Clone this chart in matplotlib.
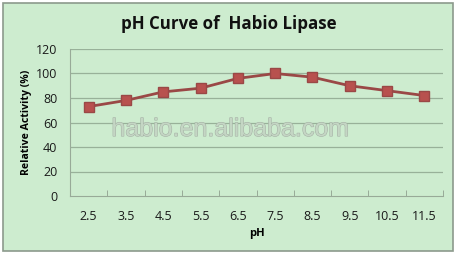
import matplotlib.pyplot as plt
import matplotlib.patheffects as pe
from matplotlib.patches import Rectangle

ph_labels = ['2.5', '3.5', '4.5', '5.5', '6.5', '7.5', '8.5', '9.5', '10.5', '11.5']
activity = [73, 78, 85, 88, 96, 100, 97, 90, 86, 82]
y_ticks = [0, 20, 40, 60, 80, 100, 120]

bg = '#cdeccf'
plt.rcParams['font.family'] = ['Open Sans', 'DejaVu Sans']

fig = plt.figure(figsize=(4.58, 2.54), dpi=100, facecolor='white')
fig.patches.append(Rectangle((3 / 458, 3 / 254), 450 / 458, 248 / 254,
                             transform=fig.transFigure, facecolor=bg,
                             edgecolor='#8c9a8c', linewidth=1.2, zorder=-1))

ax = fig.add_axes([70 / 458, 58 / 254, 373 / 458, 147 / 254])
ax.set_facecolor('none')

xs = list(range(len(ph_labels)))
ax.plot(xs, activity, color='#9a4846', linewidth=2, marker='s', markersize=7,
        markerfacecolor='#b8514e', markeredgecolor='#9a4846', zorder=3)

ax.set_xlim(-0.5, len(ph_labels) - 0.5)
ax.set_ylim(0, 120)
ax.set_yticks(y_ticks)
ax.set_yticklabels([str(v) for v in y_ticks], fontsize=9, color='#1a1a1a')
ax.set_xticks(xs)
ax.set_xticklabels(ph_labels, fontsize=9, color='#1a1a1a')
ax.tick_params(axis='x', length=0, pad=10)
ax.tick_params(axis='y', length=0, pad=9)
ax.set_xticks([i - 0.5 for i in range(len(ph_labels) + 1)], minor=True)
ax.tick_params(axis='x', which='minor', length=4, direction='in', color='#8fa08f', top=False)

for v in y_ticks[1:]:
    ax.axhline(v, color='#98b199', linewidth=0.9, zorder=1)

for s in ['top', 'right']:
    ax.spines[s].set_visible(False)
ax.spines['left'].set_color('#98aa98')
ax.spines['bottom'].set_color('#98aa98')

ax.set_xlabel('pH', fontsize=8, fontweight='bold', labelpad=4)
ax.set_ylabel('Relative Activity (%)', fontsize=7.6, fontweight='bold', labelpad=3)

fig.text(0.5, 1 - 24 / 254, 'pH Curve of  Habio Lipase', ha='center', va='center',
         fontsize=12.2, fontweight='bold', color='#111111')

fig.text(230 / 458, 1 - 129 / 254, 'habio.en.alibaba.com', ha='center', va='center',
         fontsize=18, family='Liberation Sans', color='#c4d6c4', zorder=5,
         path_effects=[pe.withStroke(linewidth=0.8, foreground='#a6b2a6')])

fig.savefig('out.png', dpi=100, facecolor='white')
